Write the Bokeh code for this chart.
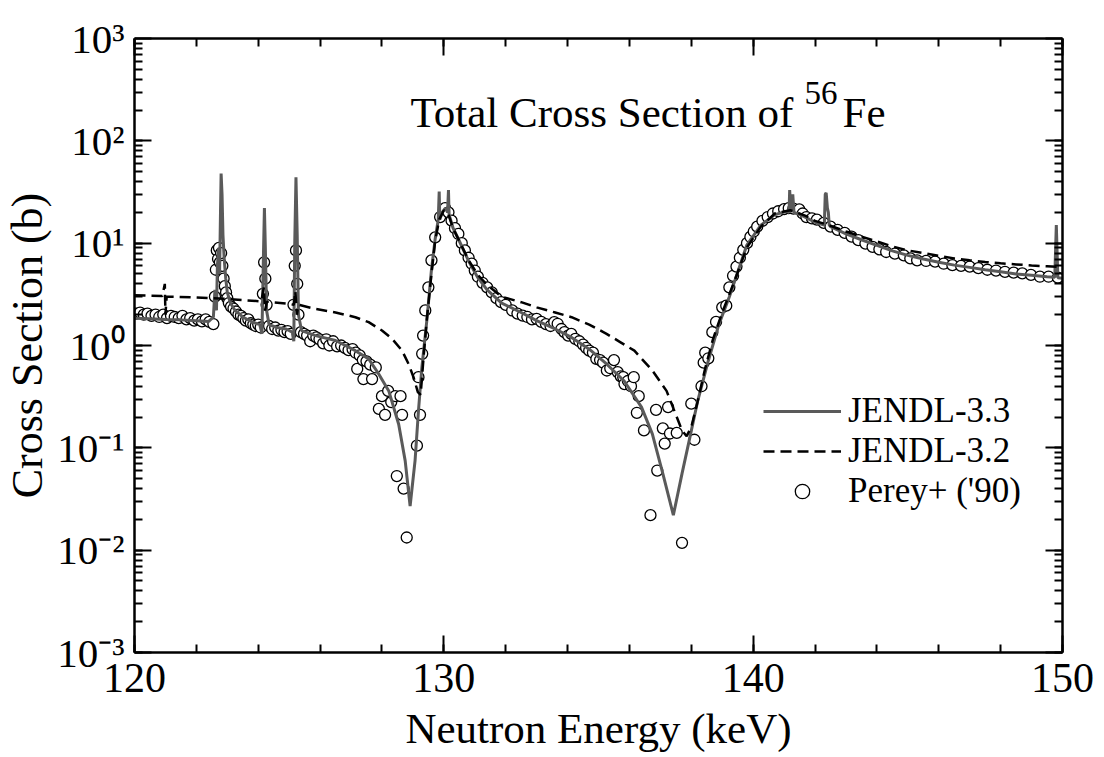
from bokeh.plotting import figure
from bokeh.models import (Range1d, LinearAxis, LogAxis, FixedTicker,
                          CustomJSTickFormatter, Label, Legend, LegendItem)
from bokeh.embed import file_html
from bokeh.resources import INLINE

# ---------------- data ----------------
x_ticks = [120, 130, 140, 150]
y_exponents = [-3, -2, -1, 0, 1, 2, 3]

jendl33_e = [120.0, 120.5, 121.0, 121.5, 122.0, 122.4, 122.55, 122.6, 122.65, 122.68,
             122.72, 122.75, 122.78, 122.8, 122.83, 122.86, 122.9, 122.95, 123.0, 123.1,
             123.25, 123.5, 123.8, 124.05, 124.12, 124.17, 124.2, 124.23, 124.27, 124.35,
             124.6, 124.9, 125.1, 125.15, 125.18, 125.22, 125.26, 125.3, 125.4, 125.85,
             126.5, 127.14, 127.57, 127.89, 128.22, 128.54, 128.75, 128.91, 129.07, 129.18,
             129.29, 129.45, 129.6, 129.72, 129.82, 129.85, 129.87, 129.95, 130.05, 130.12,
             130.15, 130.17, 130.3, 130.5, 130.8, 131.1, 131.4, 131.87, 132.5, 133.0,
             133.6, 134.13, 134.7, 135.26, 135.83, 136.39, 136.74, 137.08, 137.42, 137.7,
             137.93, 138.21, 138.55, 138.89, 139.23, 139.5, 139.79, 140.25, 140.7, 141.1,
             141.16, 141.18, 141.22, 141.28, 141.32, 141.6, 142.0, 142.3, 142.33, 142.36,
             142.4, 142.43, 142.46, 142.5, 143.0, 143.5, 144.0, 144.5, 145.0, 145.5,
             146.0, 146.5, 147.0, 147.5, 148.0, 148.5, 149.0, 149.5, 149.75, 149.8,
             149.85, 150.0]
jendl33_s = [1.85, 1.83, 1.80, 1.78, 1.75, 1.72, 1.9, 3.5, 2.2, 6.0,
             9.0, 5.0, 20.0, 48.0, 30.0, 12.0, 7.0, 4.5, 3.3, 2.6,
             2.2, 1.9, 1.7, 1.6, 1.3, 8.0, 22.0, 9.0, 2.2, 1.6,
             1.5, 1.45, 1.35, 1.1, 10.0, 44.0, 12.0, 2.0, 1.4, 1.25,
             1.12, 0.89, 0.74, 0.53, 0.36, 0.17, 0.075, 0.027, 0.075, 0.23,
             0.61, 1.75, 5.5, 11.0, 17.0, 32.0, 17.0, 20.0, 22.0, 20.0,
             33.0, 19.0, 14.0, 10.5, 6.7, 4.6, 3.5, 2.6, 2.1, 1.75,
             1.45, 1.2, 0.92, 0.66, 0.45, 0.25, 0.137, 0.056, 0.022, 0.056,
             0.117, 0.29, 0.71, 1.6, 3.0, 5.2, 9.5, 15.0, 19.0, 20.5,
             20.0, 33.0, 20.0, 30.0, 20.0, 18.5, 16.0, 15.0, 30.0, 31.0,
             22.0, 20.0, 15.0, 14.5, 12.3, 10.8, 9.5, 8.4, 7.6, 7.0,
             6.5, 6.1, 5.8, 5.5, 5.25, 5.0, 4.85, 4.7, 4.65, 15.0,
             4.6, 4.55]

jendl32_e = [120.0, 120.9, 120.98, 121.0, 121.04, 122.0, 123.0, 124.1, 124.18, 124.22,
             124.28, 125.0, 125.15, 125.2, 125.25, 125.3, 125.85, 126.5, 127.14, 127.57,
             128.0, 128.33, 128.65, 128.86, 129.02, 129.16, 129.25, 129.35, 129.45, 129.6,
             129.72, 129.85, 130.0, 130.15, 130.3, 130.5, 130.8, 131.1, 131.4, 131.87,
             132.5, 133.0, 133.6, 134.13, 134.7, 135.26, 135.7, 136.16, 136.74, 137.2,
             137.53, 137.7, 137.85, 138.0, 138.2, 138.45, 138.7, 139.0, 139.4, 139.79,
             140.25, 140.7, 141.2, 141.7, 142.0, 142.5, 143.0, 143.5, 144.0, 144.5,
             145.0, 145.5, 146.0, 146.5, 147.0, 147.5, 148.0, 148.5, 149.0, 149.5,
             150.0]
jendl32_s = [3.1, 3.05, 4.0, 2.0, 3.0, 2.95, 2.85, 2.7, 3.7, 2.2,
             2.68, 2.55, 2.5, 3.4, 2.0, 2.5, 2.28, 2.1, 1.89, 1.69,
             1.4, 1.16, 0.89, 0.66, 0.49, 0.35, 0.33, 0.8, 1.8, 5.0,
             10.5, 17.0, 21.0, 19.0, 14.0, 10.5, 6.8, 4.9, 3.9, 3.0,
             2.65, 2.36, 2.1, 1.89, 1.6, 1.3, 1.08, 0.89, 0.57, 0.36,
             0.2, 0.148, 0.13, 0.16, 0.28, 0.6, 1.15, 2.1, 4.3, 9.0,
             14.5, 19.5, 21.0, 18.5, 16.5, 14.8, 13.0, 11.6, 10.4, 9.3,
             8.5, 8.0, 7.5, 7.1, 6.8, 6.55, 6.35, 6.2, 6.05, 5.95,
             5.85]

perey_e = [120.05, 120.18, 120.3, 120.42, 120.55, 120.68, 120.8, 120.93, 121.05, 121.18,
           121.3, 121.43, 121.55, 121.68, 121.8, 121.93, 122.05, 122.18, 122.3, 122.42,
           122.55, 122.6, 122.63, 122.66, 122.7, 122.73, 122.76, 122.8, 122.84, 122.88,
           122.92, 122.96, 123.0, 123.05, 123.12, 123.2, 123.28, 123.36, 123.44, 123.52,
           123.6, 123.68, 123.76, 123.84, 123.92, 124.0, 124.08, 124.15, 124.19, 124.23,
           124.27, 124.35, 124.45, 124.55, 124.65, 124.75, 124.85, 124.95, 125.05, 125.14,
           125.18, 125.22, 125.26, 125.3, 125.38, 125.48, 125.58, 125.68, 125.78, 125.88,
           125.98, 126.1, 126.2, 126.3, 126.42, 126.55, 126.68, 126.8, 126.92, 127.05,
           127.15, 127.2, 127.28, 127.38, 127.4, 127.5, 127.62, 127.68, 127.8, 127.9,
           128.0, 128.1, 128.2, 128.3, 128.43, 128.48, 128.6, 128.65, 128.7, 128.8,
           129.13, 129.18, 129.23, 129.3, 129.33, 129.4, 129.5, 129.6, 129.72, 129.88,
           130.04, 130.15, 130.25, 130.36, 130.47, 130.58, 130.68, 130.8, 130.9, 131.0,
           131.1, 131.25, 131.4, 131.55, 131.7, 131.85, 132.0, 132.21, 132.38, 132.55,
           132.7, 132.85, 133.0, 133.15, 133.3, 133.45, 133.57, 133.68, 133.8, 133.9,
           134.02, 134.12, 134.25, 134.38, 134.5, 134.6, 134.7, 134.82, 134.93, 135.05,
           135.15, 135.27, 135.38, 135.5, 135.62, 135.72, 135.8, 135.84, 135.95, 136.05,
           136.14, 136.24, 136.3, 136.47, 136.68, 136.86, 136.9, 137.08, 137.14, 137.25,
           137.31, 137.53, 137.7, 138.0, 138.1, 138.33, 138.4, 138.45, 138.55, 138.68,
           138.8, 139.0, 139.13, 139.23, 139.35, 139.46, 139.57, 139.68, 139.8, 139.91,
           140.02, 140.13, 140.3, 140.47, 140.64, 140.81, 141.0, 141.15, 141.3, 141.49,
           141.6, 141.72, 141.9, 142.06, 142.28, 142.5, 142.73, 142.96, 143.18, 143.4,
           143.63, 143.86, 144.08, 144.3, 144.58, 144.87, 145.08, 145.3, 145.59, 145.88,
           146.16, 146.44, 146.72, 147.0, 147.28, 147.57, 147.85, 148.14, 148.42, 148.7,
           148.98, 149.27, 149.55, 149.85]
perey_s = [2.05, 2.1, 2.0, 2.05, 1.95, 2.0, 1.9, 2.0, 1.85, 1.95,
           1.9, 1.85, 1.95, 1.8, 1.85, 1.75, 1.8, 1.72, 1.8, 1.7,
           1.62, 3.0, 5.5, 8.5, 7.0, 9.0, 6.5, 8.0, 6.0, 4.5,
           3.8, 3.3, 2.9, 2.6, 2.4, 2.3, 2.15, 2.0, 1.95, 1.85,
           1.75, 1.8, 1.65, 1.6, 1.55, 1.6, 1.5, 3.2, 6.5, 4.5,
           2.5, 1.55, 1.45, 1.5, 1.4, 1.42, 1.35, 1.38, 1.3, 2.5,
           6.0, 8.5, 4.0, 2.0, 1.35, 1.3, 1.25, 1.1, 1.25, 1.2,
           1.15, 1.05, 1.15, 1.0, 1.1, 0.98, 1.0, 0.95, 0.9, 0.92,
           0.85, 0.59, 0.8, 0.72, 0.47, 0.7, 0.65, 0.47, 0.61, 0.24,
           0.32, 0.21, 0.36, 0.28, 0.32, 0.053, 0.32, 0.21, 0.04, 0.0133,
           0.105, 0.49, 0.21, 0.83, 1.25, 2.2, 3.7, 6.8, 11.4, 18.0,
           22.0, 20.0, 16.6, 14.0, 12.3, 10.0, 8.5, 7.2, 6.3, 5.4,
           4.7, 4.1, 3.7, 3.3, 2.9, 2.65, 2.5, 2.2, 2.05, 1.96,
           1.9, 1.8, 1.82, 1.7, 1.62, 1.55, 1.69, 1.63, 1.45, 1.35,
           1.25, 1.3, 1.16, 1.1, 1.02, 0.95, 0.89, 0.85, 0.74, 0.72,
           0.68, 0.57, 0.6, 0.72, 0.55, 0.5, 0.49, 0.42, 0.45, 0.4,
           0.49, 0.22, 0.32, 0.148, 0.022, 0.235, 0.06, 0.155, 0.11, 0.25,
           0.138, 0.14, 0.0118, 0.27, 0.12, 0.4, 0.68, 0.85, 0.75, 1.35,
           1.7, 2.36, 2.45, 3.7, 4.8, 5.9, 7.2, 8.6, 10.0, 11.5,
           13.0, 14.5, 16.5, 18.0, 19.5, 20.5, 21.5, 22.0, 21.8, 21.4,
           19.5, 18.0, 17.5, 17.0, 15.8, 14.5, 13.5, 12.6, 11.6, 10.7,
           9.9, 9.2, 8.7, 8.2, 7.9, 7.6, 7.1, 6.8, 6.7, 6.6,
           6.3, 6.1, 6.0, 5.9, 5.7, 5.5, 5.4, 5.25, 5.15, 5.07,
           4.9, 4.7, 4.7, 4.6]

FONT = "Liberation Serif"

# ---------------- figure ----------------
p = figure(width=1104, height=757,
           x_range=Range1d(120, 150), y_range=Range1d(1e-3, 1e3),
           y_axis_type="log", output_backend="svg", toolbar_location=None,
           min_border_left=132, min_border_right=42,
           min_border_top=38, min_border_bottom=105)
p.xgrid.visible = False
p.ygrid.visible = False
p.outline_line_color = None
p.background_fill_color = "white"
p.border_fill_color = "white"

x_minor = [120 + 2 * i for i in range(16)]
y_major = [10.0 ** k for k in y_exponents]
y_minor = [m * 10.0 ** k for k in y_exponents[:-1] for m in range(1, 10)]
xticker = FixedTicker(ticks=x_ticks, minor_ticks=x_minor)
yticker = FixedTicker(ticks=y_major, minor_ticks=y_minor)
blank = CustomJSTickFormatter(code="return ''")
decade = CustomJSTickFormatter(code="""
const e = Math.round(Math.log10(tick));
const sup = {"-": "\\u207b", "0": "\\u2070", "1": "\\u00b9", "2": "\\u00b2",
             "3": "\\u00b3", "4": "\\u2074", "5": "\\u2075", "6": "\\u2076",
             "7": "\\u2077", "8": "\\u2078", "9": "\\u2079"};
return "10" + String(e).split("").map(c => sup[c]).join("");
""")


def style(ax):
    ax.axis_line_width = 2.5
    ax.axis_line_color = "black"
    ax.major_tick_in = 17
    ax.major_tick_out = 0
    ax.minor_tick_in = 8
    ax.minor_tick_out = 0
    ax.major_tick_line_width = 2
    ax.minor_tick_line_width = 2
    ax.major_tick_line_color = "black"
    ax.minor_tick_line_color = "black"


# bottom axis with tick labels and title
xb = p.xaxis[0]
xb.ticker = xticker
style(xb)
xb.major_label_text_font = FONT
xb.major_label_text_font_size = "42px"
xb.major_label_text_color = "black"
xb.major_label_standoff = 11
xb.axis_label = "Neutron Energy (keV)"
xb.axis_label_text_font = FONT
xb.axis_label_text_font_size = "43px"
xb.axis_label_text_font_style = "normal"
xb.axis_label_text_color = "black"
xb.axis_label_standoff = 10

# left axis with decade labels and title
yl = p.yaxis[0]
yl.ticker = yticker
yl.formatter = decade
style(yl)
yl.major_label_text_font = FONT
yl.major_label_text_font_size = "41px"
yl.major_label_text_color = "black"
yl.major_label_standoff = 10
yl.axis_label = "Cross Section (b)"
yl.axis_label_text_font = FONT
yl.axis_label_text_font_size = "44px"
yl.axis_label_text_font_style = "normal"
yl.axis_label_text_color = "black"
yl.axis_label_standoff = 2

# mirrored top and right axes (ticks only)
xt = LinearAxis(ticker=xticker, formatter=blank)
style(xt)
xt.major_label_text_font_size = "1px"
xt.major_label_standoff = 0
p.add_layout(xt, "above")
yr = LogAxis(ticker=yticker, formatter=blank)
style(yr)
yr.major_label_text_font_size = "1px"
yr.major_label_standoff = 0
p.add_layout(yr, "right")

# ---------------- data glyphs ----------------
rp = p.scatter(perey_e, perey_s, marker="circle", size=11,
               fill_color="white", line_color="black", line_width=1.3)
r33 = p.line(jendl33_e, jendl33_s, line_color="#5a5a5a", line_width=3)
r32 = p.line(jendl32_e, jendl32_s, line_color="black", line_width=2.5,
             line_dash="11 6")

legend = Legend(items=[LegendItem(label="JENDL-3.3", renderers=[r33]),
                       LegendItem(label="JENDL-3.2", renderers=[r32]),
                       LegendItem(label="Perey+ ('90)", renderers=[rp])],
                location=(629, 141), glyph_width=78, glyph_height=36,
                label_height=36, label_standoff=7, padding=0, spacing=-4,
                margin=0, border_line_color=None, background_fill_alpha=0,
                label_text_font=FONT, label_text_font_size="35px",
                label_text_color="black", label_text_baseline="middle")
p.add_layout(legend)

# ---------------- title inside the frame ----------------
p.add_layout(Label(x=120, y=1e3, x_offset=276, y_offset=-74,
                   text="Total Cross Section of", text_font=FONT,
                   text_font_size="43px", text_color="black",
                   text_baseline="alphabetic"))
p.add_layout(Label(x=120, y=1e3, x_offset=670, y_offset=-54, text="56",
                   text_font=FONT, text_font_size="33px", text_color="black",
                   text_baseline="alphabetic"))
p.add_layout(Label(x=120, y=1e3, x_offset=708, y_offset=-74, text="Fe",
                   text_font=FONT, text_font_size="43px", text_color="black",
                   text_baseline="alphabetic"))

open("out.html", "w").write(file_html(p, INLINE))
